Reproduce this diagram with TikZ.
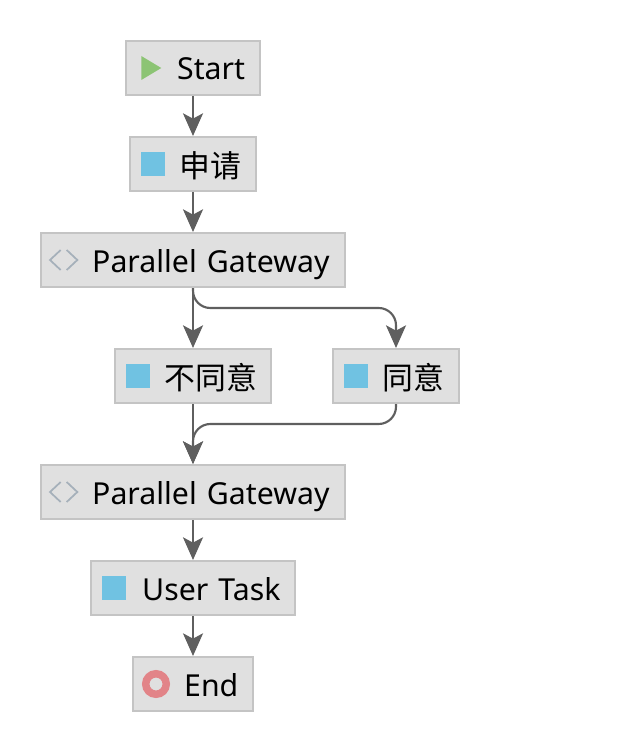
\documentclass[tikz,border=0pt]{standalone}
\usepackage{fontspec}
\setmainfont{Noto Sans}
\newfontfamily\cjk[Scale=1.02]{Noto Sans CJK SC}
\newcommand{\cjklabel}[1]{\hspace*{-1pt}\raisebox{-1.2pt}{\cjk #1}}
\usetikzlibrary{positioning,arrows.meta,shapes.geometric}
\definecolor{boxfill}{RGB}{224, 224, 224}
\definecolor{boxline}{RGB}{196, 196, 196}
\definecolor{flowline}{RGB}{95, 95, 95}
\definecolor{taskblue}{RGB}{112, 194, 226}
\definecolor{startgreen}{RGB}{140, 196, 116}
\definecolor{endred}{RGB}{226, 132, 136}
\definecolor{gategrey}{RGB}{165, 176, 186}

\tikzset{
  flowbox/.style={draw=boxline, line width=1.5pt, fill=boxfill, inner xsep=0pt, inner ysep=0pt,
    text width=#1pt-1.5pt, minimum height=40.5pt, text height=21pt, text depth=3pt, align=left,
    font=\fontsize{22.7}{26}\selectfont, execute at begin node={\hspace*{38.4pt}}},
  taskicon/.style={rectangle, fill=taskblue, inner sep=0pt, minimum size=18pt},
  starticon/.style={isosceles triangle, isosceles triangle stretches, fill=startgreen, inner sep=0pt,
    minimum width=18pt, minimum height=15pt},
  endicon/.style={circle, draw=endred, fill=boxfill, line width=5.6pt, inner sep=0pt, minimum size=15.4pt},
  gateicon/.style={gategrey, line width=1.3pt},
  flow/.style={-{Stealth[length=17pt, width=15pt, inset=4pt]}, line width=1.6pt, flowline},
  bentflow/.style={flow, rounded corners=13pt}
}

\begin{document}
\begin{tikzpicture}[node distance=30pt]
        \useasboundingbox (0,0) rectangle (465pt,-564pt);

        \node[flowbox=102] (start) at (144.75pt,-51pt) {Start};
        \node[flowbox=96, below=of start] (apply) {\cjklabel{申请}};
        \node[flowbox=229.5, below=of apply] (gatea) {Parallel Gateway};
        \node[flowbox=118.5, below=45pt of gatea] (reject) {\cjklabel{不同意}};
        \node[flowbox=96, right=45pt of reject] (agree) {\cjklabel{同意}};
        \node[flowbox=229.5, below=45pt of reject] (gateb) {Parallel Gateway};
        \node[flowbox=154.5, below=of gateb] (user) {User Task};
        \node[flowbox=91.5, below=of user] (end) {End};

        \node[starticon, right=12pt of start.west] (starti) {};
        \node[taskicon, right=9pt of apply.west] (applyi) {};
        \node[taskicon, right=9pt of reject.west] (rejecti) {};
        \node[taskicon, right=9pt of agree.west] (agreei) {};
        \node[taskicon, right=9pt of user.west] (useri) {};
        \node[endicon, right=7.5pt of end.west] (endi) {};

        % gateway marks
        \draw[gateicon] ([xshift=15.5pt, yshift=7.5pt]gatea.west) -- ([xshift=7.5pt]gatea.west) -- ([xshift=15.5pt, yshift=-7.5pt]gatea.west);
        \draw[gateicon] ([xshift=20pt, yshift=7.5pt]gatea.west) -- ([xshift=28pt]gatea.west) -- ([xshift=20pt, yshift=-7.5pt]gatea.west);
        \draw[gateicon] ([xshift=15.5pt, yshift=7.5pt]gateb.west) -- ([xshift=7.5pt]gateb.west) -- ([xshift=15.5pt, yshift=-7.5pt]gateb.west);
        \draw[gateicon] ([xshift=20pt, yshift=7.5pt]gateb.west) -- ([xshift=28pt]gateb.west) -- ([xshift=20pt, yshift=-7.5pt]gateb.west);

        \coordinate[below=15pt of gatea.south] (split);
        \coordinate[below=15pt of agree.south] (join);

        \draw[flow] (start) -- (apply);
        \draw[flow] (apply) -- (gatea);
        \draw[flow] (gatea) -- (reject);
        \draw[bentflow] (gatea.south) -- (split) -- (split -| agree.north) -- (agree.north);
        \draw[flow] (reject) -- (gateb);
        \draw[bentflow] (agree.south) -- (join) -- (join -| gateb.north) -- (gateb.north);
        \draw[flow] (gateb) -- (user);
        \draw[flow] (user) -- (end);
    \end{tikzpicture}
\end{document}
